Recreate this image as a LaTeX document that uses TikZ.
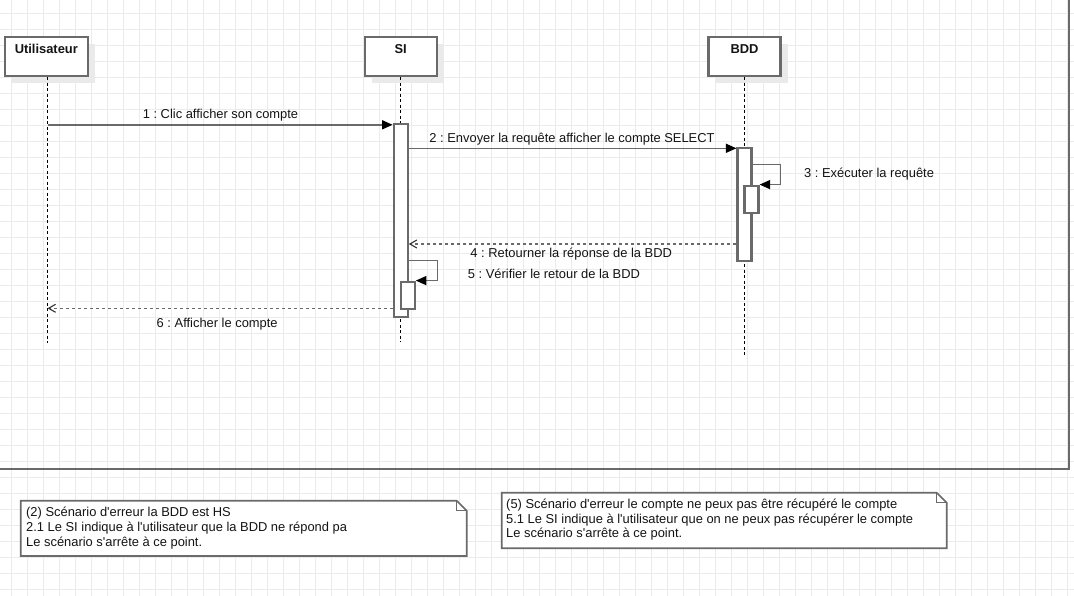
\documentclass[tikz,border=0pt]{standalone}
\usepackage{fontspec}
\setmainfont{Liberation Sans}
\usetikzlibrary{arrows.meta,shadows}
\definecolor{gridc}{HTML}{EBEBEB}
\definecolor{strokec}{HTML}{6A6A6A}
\definecolor{shadowc}{HTML}{EAEAEA}
\definecolor{textc}{HTML}{141414}
\frenchspacing
\begin{document}
\begin{tikzpicture}[x=1pt,y=-1pt,
  lbl/.style={font=\fontsize{12.9}{15}\selectfont, text=textc, inner sep=0pt},
  ttl/.style={font=\fontsize{12.9}{15}\selectfont\bfseries, text=textc, inner sep=0pt, anchor=base},
  actor/.style={draw=strokec, line width=2.2pt, fill=white, minimum width=72pt, minimum height=39.3pt, inner sep=0pt,
    drop shadow={shadow xshift=7pt, shadow yshift=-7pt, fill=shadowc, opacity=1}},
  actbar/.style={draw=strokec, line width=2.2pt, fill=white, minimum width=14pt, inner sep=0pt},
  lifeline/.style={draw=black, line width=1.1pt, dash pattern=on 3pt off 2.5pt},
  msg/.style={draw=strokec, line width=1.5pt, -{Triangle[length=10.5pt,width=9pt,fill=black,color=black]}},
  ret/.style={draw=strokec, line width=1.5pt, dash pattern=on 3pt off 3pt, -{Straight Barb[length=7pt,width=8pt,line width=1.1pt,color=black!80]}},
  notebox/.style={draw=strokec, line width=1.7pt, fill=white, line join=miter},
  notefold/.style={draw=strokec, line width=1.1pt}
]
\useasboundingbox (0,0) rectangle (1074,596);
\fill[white] (0,0) rectangle (1074,596);
% grid
\foreach \i in {0,...,66} \draw[gridc, line width=1pt] ({11.7+16*\i},0) -- ({11.7+16*\i},596);
\foreach \j in {0,...,36} \draw[gridc, line width=1pt] (0,{13.3+16*\j}) -- (1074,{13.3+16*\j});
% frame
\draw[strokec, line width=2.5pt] (0,469) -- (1069,469) -- (1069,0);

% participants
\node[actor, minimum width=83.4pt] (u) at (46.5,56.35) {};
\node[actor] (si) at (400.7,56.35) {};
\node[actor] (bdd) at (744.5,56.35) {};
\node[ttl] (ut) at (46.3,54) {Utilisateur};
\node[ttl] (sit) at (400.7,54) {SI};
\node[ttl] (bddt) at (744.5,54) {BDD};

% lifelines
\coordinate (uend) at (47.5,343);
\coordinate (siend) at (400.7,342);
\coordinate (bddend) at (744.5,356);
\draw[lifeline] (u.south -| uend) -- (uend);
\draw[lifeline] (si.south) -- (siend);
\draw[lifeline] (bdd.south) -- (bddend);

% activations
\node[actbar, minimum height=193pt] (sia) at (400.7,220.8) {};
\node[actbar, minimum height=112.7pt] (bdda) at (744.5,204.65) {};
\node[actbar, minimum height=27pt] (bddn) at (751.5,199.2) {};
\node[actbar, minimum height=27.3pt] (sin) at (407.7,295.35) {};

% messages
\coordinate (m1) at (47.5,124.8);
\draw[msg] (m1) -- (m1 -| sia.west);
\node[lbl, anchor=base] (l1) at (220.5,119) {1 : Clic afficher son compte};

\coordinate (y2) at (0,148.3);
\draw[msg] (sia.east |- y2) -- (bdda.west |- y2);
\node[lbl, anchor=base] (l2) at (572,142.5) {2 : Envoyer la requête afficher le compte SELECT};

\coordinate (c3) at (780.7,164.7);
\draw[msg] (bdda.east |- c3) -- (c3) -- (c3 |- bddn.north) -- (bddn.north east);
\node[lbl, anchor=base west] (l3) at (804,178) {3 : Exécuter la requête};

\coordinate (y4) at (0,244);
\draw[ret] (bdda.west |- y4) -- (sia.east |- y4);
\node[lbl, anchor=base] (l4) at (571.2,258) {4 : Retourner la réponse de la BDD};

\coordinate (c5) at (437.3,260.7);
\draw[msg] (sia.east |- c5) -- (c5) -- (c5 |- sin.north) -- (sin.north east);
\node[lbl, anchor=base west] (l5) at (467.7,279) {5 : Vérifier le retour de la BDD};

\coordinate (y6) at (0,308.3);
\draw[ret] (sia.west |- y6) -- (uend |- y6);
\node[lbl, anchor=base] (l6) at (217.2,327) {6 : Afficher le compte};

% note 1
\draw[notebox] (20.7,500.7) -- (456.7,500.7) -- (466.7,510.7) -- (466.7,556) -- (20.7,556) -- cycle;
\draw[notefold] (456.7,500.7) -- (456.7,510.7) -- (466.7,510.7);
\node[lbl, anchor=base west] (n1a) at (26,516.5) {(2) Scénario d\textquotesingle erreur la BDD est HS};
\node[lbl, anchor=base west] (n1b) at (26,531.3) {2.1 Le SI indique à l\textquotesingle utilisateur que la BDD ne répond pa};
\node[lbl, anchor=base west] (n1c) at (26,546.2) {Le scénario s\textquotesingle arrête à ce point.};

% note 2
\draw[notebox] (501.7,492.7) -- (936.7,492.7) -- (946.7,502.7) -- (946.7,548.3) -- (501.7,548.3) -- cycle;
\draw[notefold] (936.7,492.7) -- (936.7,502.7) -- (946.7,502.7);
\node[lbl, anchor=base west] (n2a) at (506,508.2) {(5) Scénario d\textquotesingle erreur le compte ne peux pas être récupéré le compte};
\node[lbl, anchor=base west] (n2b) at (506,523.2) {5.1 Le SI indique à l\textquotesingle utilisateur que on ne peux pas récupérer le compte};
\node[lbl, anchor=base west] (n2c) at (506,537.9) {Le scénario s\textquotesingle arrête à ce point.};
\end{tikzpicture}
\end{document}
